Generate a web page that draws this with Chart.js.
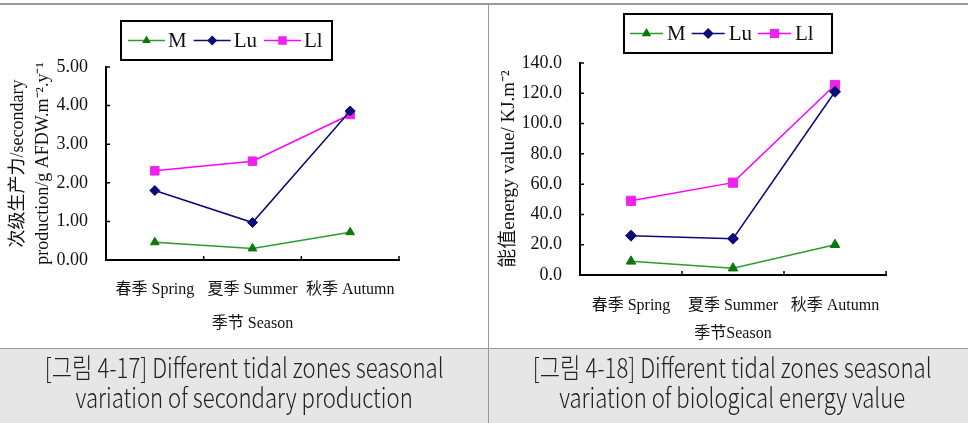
<!DOCTYPE html>
<html>
<head>
<meta charset="utf-8">
<script src="https://cdn.jsdelivr.net/npm/chart.js@4.4.0/dist/chart.umd.min.js"></script>
<style>
body { margin: 0; background: #fff; }
#page { position: relative; width: 968px; height: 423px; overflow: hidden; }
canvas { position: absolute; }
.rule { position: absolute; background: #999; }
.cap { position: absolute; top: 349px; height: 74px; background: #e6e6e6; text-align: center;
       font-family: "Noto Sans CJK KR", sans-serif; font-weight: 300; font-size: 27px; line-height: 30px; color: #222; }
.cap span { display: inline-block; transform: scaleX(0.82); transform-origin: center; padding-top: 3px; white-space: nowrap; }
</style>
</head>
<body>
<div id="page">
  <div class="rule" style="left:0;top:3px;width:968px;height:2px"></div>
  <canvas id="prodChart" width="488" height="343" style="left:0;top:5px"></canvas>
  <canvas id="energyChart" width="479" height="343" style="left:489px;top:5px"></canvas>
  <div class="cap" style="left:0;width:488px"><span>[그림 4-17] Different tidal zones seasonal<br>variation of secondary production</span></div>
  <div class="cap" style="left:489px;width:479px"><span>[그림 4-18] Different tidal zones seasonal<br>variation of biological energy value</span></div>
  <div class="rule" style="left:0;top:348px;width:968px;height:1px"></div>
  <div class="rule" style="left:488px;top:5px;width:1px;height:418px"></div>
</div>
<script>
// 계절 / 조간대
const seasons = ["春季 Spring", "夏季 Summer", "秋季 Autumn"];
const zones = ["M", "Lu", "Ll"];

// 次级生产力 (g AFDW.m-2.y-1)
const prodM = [0.46, 0.30, 0.72];
const prodLu = [1.80, 0.97, 3.86];
const prodLl = [2.31, 2.56, 3.77];

// 能值 (KJ.m-2)
const energyM = [9.0, 4.5, 20.0];
const energyLu = [26.0, 24.0, 121.0];
const energyLl = [49.0, 61.0, 125.5];

const serif = "'Liberation Serif', 'Noto Sans CJK SC', serif";
Chart.defaults.font.family = serif;
Chart.defaults.color = "#111";

const zoneStyle = [
    { line: "#2f9a2f", mark: "#0b780b", style: "triangle" },
    { line: "#0a0a78", mark: "#0a0a78", style: "rectRot" },
    { line: "#ff00ff", mark: "#ee22ee", style: "rect" }
];

function makeSets(values, radius) {
    return values.map((v, i) => ({
        label: zones[i],
        data: v,
        borderColor: zoneStyle[i].line,
        backgroundColor: zoneStyle[i].mark,
        pointBackgroundColor: zoneStyle[i].mark,
        pointBorderColor: zoneStyle[i].mark,
        pointStyle: zoneStyle[i].style,
        pointRadius: radius[i],
        pointBorderWidth: 1,
        borderWidth: 1.5,
        tension: 0
    }));
}

function marker(ctx, style, x, y, r, color) {
    ctx.fillStyle = color;
    ctx.beginPath();
    if (style === "triangle") {
        ctx.moveTo(x, y - r);
        ctx.lineTo(x - r * 0.866, y + r * 0.5);
        ctx.lineTo(x + r * 0.866, y + r * 0.5);
    } else if (style === "rectRot") {
        ctx.moveTo(x - r, y);
        ctx.lineTo(x, y - r);
        ctx.lineTo(x + r, y);
        ctx.lineTo(x, y + r);
    } else {
        const s = r * Math.SQRT1_2;
        ctx.rect(x - s, y - s, 2 * s, 2 * s);
    }
    ctx.closePath();
    ctx.fill();
}

// 테두리 있는 범례 (선 + 마커)
const boxLegend = {
    id: "boxLegend",
    afterDraw(chart, args, o) {
        const ctx = chart.ctx;
        ctx.save();
        ctx.lineWidth = 2;
        ctx.strokeStyle = "#000";
        ctx.strokeRect(o.x, o.y, o.w, o.h);
        ctx.font = o.font;
        ctx.textBaseline = "middle";
        const cy = o.y + o.h / 2;
        let sx = o.x + o.pad;
        chart.data.datasets.forEach(ds => {
            ctx.strokeStyle = ds.borderColor;
            ctx.lineWidth = ds.borderWidth;
            ctx.beginPath();
            ctx.moveTo(sx, cy);
            ctx.lineTo(sx + o.lineLen, cy);
            ctx.stroke();
            marker(ctx, ds.pointStyle, sx + o.lineLen / 2, cy, ds.pointRadius, ds.pointBackgroundColor);
            ctx.fillStyle = "#111";
            ctx.fillText(ds.label, sx + o.lineLen + o.textGap, cy + 1);
            sx += o.lineLen + o.textGap + ctx.measureText(ds.label).width + o.itemGap;
        });
        ctx.restore();
    }
};

// 안쪽 눈금
const innerTicks = {
    id: "innerTicks",
    afterDraw(chart) {
        const { ctx, chartArea: a, scales: { x, y } } = chart;
        ctx.save();
        ctx.strokeStyle = "#000";
        ctx.lineWidth = 1.5;
        ctx.beginPath();
        y.ticks.forEach(t => {
            const py = y.getPixelForValue(t.value);
            ctx.moveTo(a.left, py);
            ctx.lineTo(a.left + 4, py);
        });
        for (let i = 1; i <= x.ticks.length; i++) {
            const px = x.getPixelForValue(i - 0.5);
            ctx.moveTo(px, a.bottom);
            ctx.lineTo(px, a.bottom - 4);
        }
        ctx.stroke();
        ctx.restore();
    }
};

function makeChart(id, sets, cfg) {
    return new Chart(document.getElementById(id), {
        type: "line",
        data: { labels: seasons, datasets: sets },
        plugins: [innerTicks, boxLegend],
        options: {
            responsive: false,
            animation: false,
            layout: { padding: cfg.padding },
            plugins: {
                legend: { display: false },
                tooltip: { enabled: false },
                boxLegend: cfg.legend
            },
            scales: {
                x: {
                    offset: true,
                    grid: { display: false, drawTicks: false },
                    border: { display: true, color: "#000", width: 2 },
                    ticks: { padding: cfg.xTickPad, font: { size: 16 } },
                    title: { display: true, text: cfg.xTitle, font: { size: 16 }, padding: { top: 0, bottom: cfg.xTitlePad } },
                    afterFit(s) { s.height = cfg.xHeight; }
                },
                y: {
                    min: 0,
                    max: cfg.yMax,
                    grid: { display: false, drawTicks: false },
                    border: { display: true, color: "#000", width: 2 },
                    ticks: { stepSize: cfg.yStep, padding: 18, font: { size: 18 }, callback: v => v.toFixed(cfg.digits) },
                    title: { display: true, text: cfg.yTitle, font: { size: cfg.yTitleSize, lineHeight: cfg.yTitleLh }, padding: { top: cfg.yTitlePad, bottom: 0 } },
                    afterFit(s) { s.width = cfg.yWidth; }
                }
            }
        }
    });
}

makeChart("prodChart", makeSets([prodM, prodLu, prodLl], [5, 5, 6]), {
    padding: { left: 0, top: 62, right: 89, bottom: 0 },
    xHeight: 88, yWidth: 106, yMax: 5, yStep: 1, digits: 2,
    xTickPad: 20, xTitle: "季节 Season", xTitlePad: 15,
    yTitle: ["次级生产力/secondary", "production/g AFDW.m⁻².y⁻¹"], yTitleSize: 18, yTitleLh: 1.42, yTitlePad: 5,
    legend: { x: 121, y: 16, w: 211, h: 39, pad: 7, lineLen: 37, textGap: 3, itemGap: 7, font: "21px " + serif }
});

makeChart("energyChart", makeSets([energyM, energyLu, energyLl], [5.5, 5.5, 6.5]), {
    padding: { left: 0, top: 58, right: 82, bottom: 0 },
    xHeight: 73, yWidth: 91, yMax: 140, yStep: 20, digits: 1,
    xTickPad: 21, xTitle: "季节Season", xTitlePad: 5,
    yTitle: "能值energy value/ KJ.m⁻²", yTitleSize: 19, yTitleLh: 1.2, yTitlePad: 9,
    legend: { x: 135, y: 9, w: 208, h: 39, pad: 6, lineLen: 33, textGap: 4, itemGap: 6, font: "21px " + serif }
});
</script>
</body>
</html>
